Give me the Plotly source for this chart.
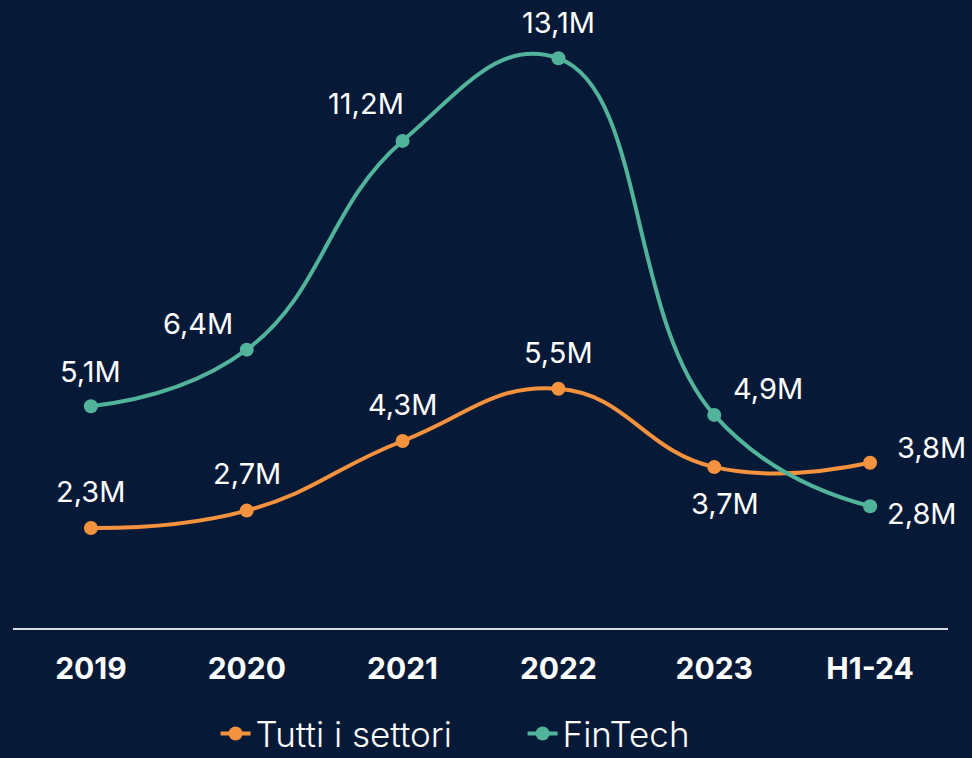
import plotly.graph_objects as go

# Periods and values (millions)
periods = ["2019", "2020", "2021", "2022", "2023", "H1-24"]
tutti_settori = [2.3, 2.7, 4.3, 5.5, 3.7, 3.8]
fintech = [5.1, 6.4, 11.2, 13.1, 4.9, 2.8]

# Label offsets in pixels (xshift, yshift) for each point
tutti_offsets = [(0, 36), (0, 37), (0, 36), (0, 36), (11, -36), (61, 15)]
fintech_offsets = [(0, 35), (-49, 26), (-37, 37), (0, 36), (54, 26), (52, -7)]

BG = "#061a37"
ORANGE = "#f5923e"
TEAL = "#52b39b"
FONT = "Inter"


def fmt(v):
    return f"{v:.1f}".replace(".", ",") + "M"


fig = go.Figure()
fig.add_trace(go.Scatter(
    x=periods, y=tutti_settori, name="Tutti i settori",
    mode="lines+markers",
    line=dict(color=ORANGE, width=4, shape="spline", smoothing=1.3),
    marker=dict(color=ORANGE, size=14),
    cliponaxis=False,
))
fig.add_trace(go.Scatter(
    x=periods, y=fintech, name="FinTech",
    mode="lines+markers",
    line=dict(color=TEAL, width=4, shape="spline", smoothing=1.3),
    marker=dict(color=TEAL, size=14),
    cliponaxis=False,
))

# Value labels, positioned by category index and value
annotations = []
for series, offsets in ((tutti_settori, tutti_offsets), (fintech, fintech_offsets)):
    for i, (v, (dx, dy)) in enumerate(zip(series, offsets)):
        annotations.append(dict(
            x=i, y=v, xref="x", yref="y", text=fmt(v), showarrow=False,
            xshift=dx, yshift=dy,
            font=dict(family=FONT, size=29, color="white"),
        ))

fig.update_layout(
    width=972, height=758,
    paper_bgcolor=BG, plot_bgcolor=BG,
    margin=dict(l=13, r=24, t=20, b=130, autoexpand=False),
    showlegend=True,
    legend=dict(
        orientation="h", x=0.545, xanchor="center",
        yref="container", y=0.071, yanchor="top",
        font=dict(family=FONT, size=35, color="white", weight=300),
        bgcolor="rgba(0,0,0,0)",
        entrywidth=262,
    ),
    annotations=annotations,
    xaxis=dict(
        type="category", range=[-0.5, 5.5],
        showgrid=False, zeroline=False,
        showline=True, linecolor="#d9dce2", linewidth=2,
        ticks="outside", ticklen=13, tickcolor=BG,
        tickfont=dict(family=FONT, size=30, color="white", weight="bold"),
        fixedrange=True,
    ),
    yaxis=dict(
        range=[0, 13.98], visible=False, showgrid=False, zeroline=False,
        fixedrange=True,
    ),
)

fig.write_html("out.html")
